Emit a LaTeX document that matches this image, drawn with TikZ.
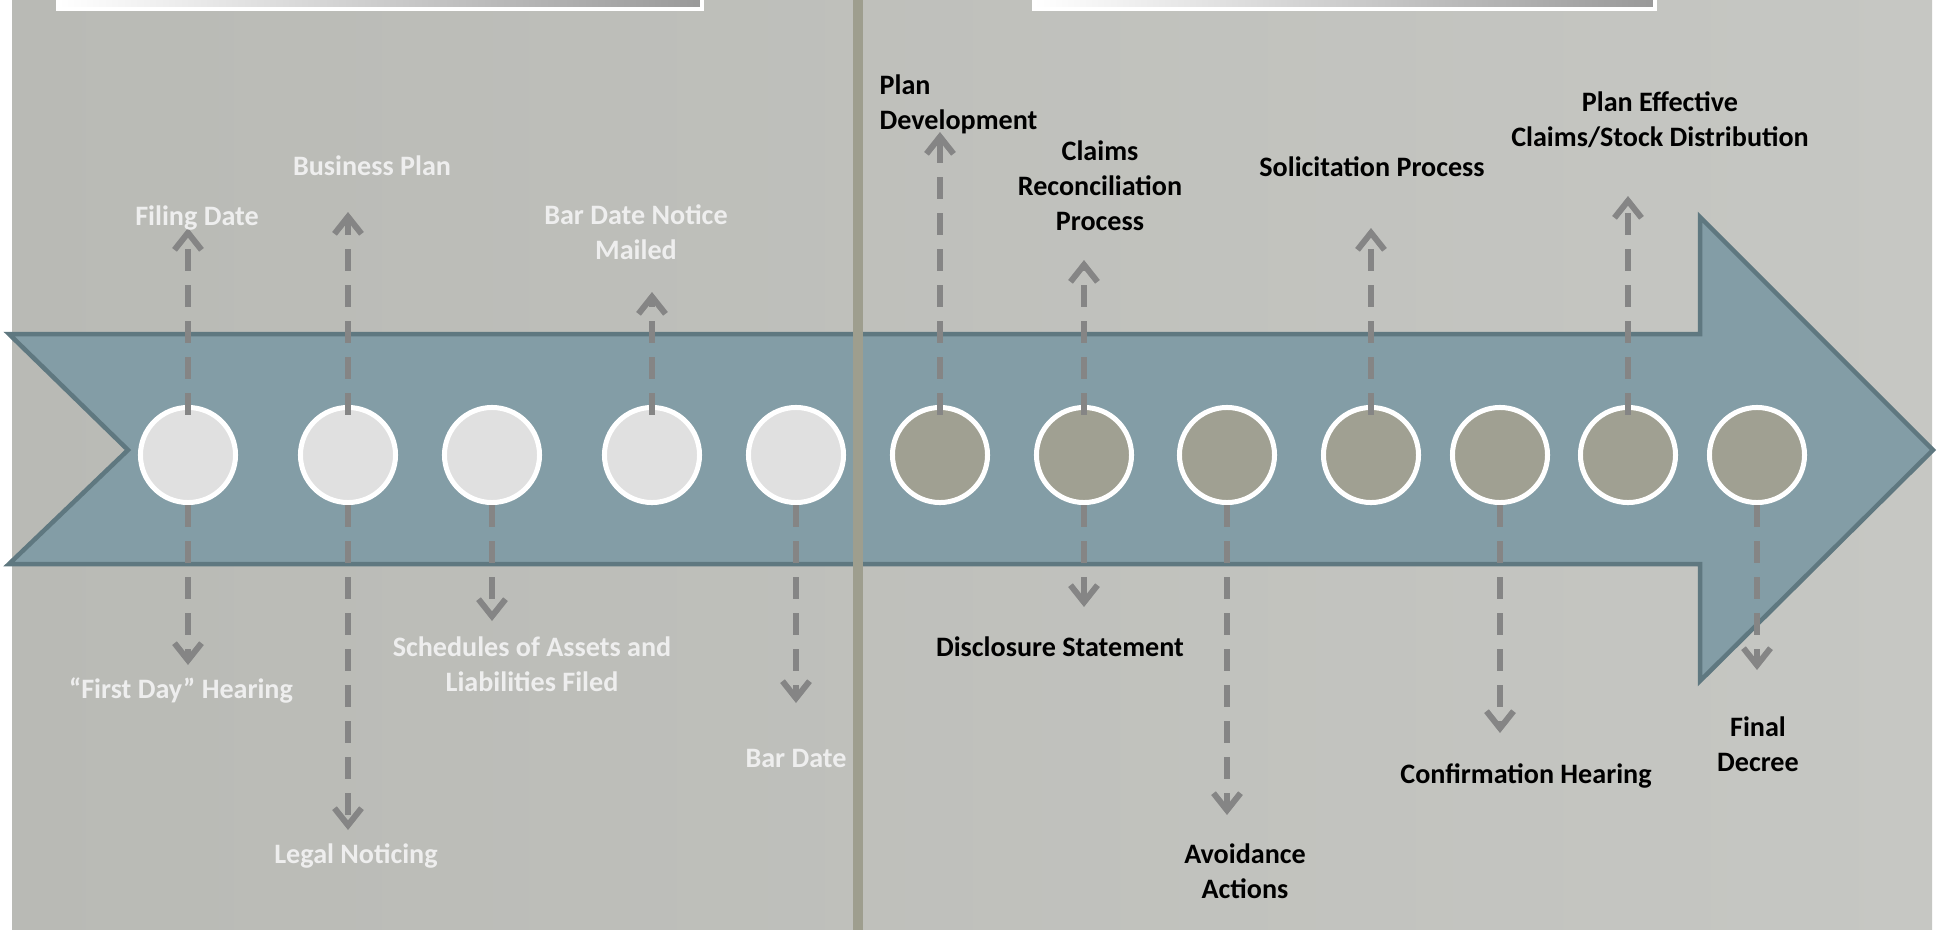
\documentclass[tikz,border=0pt]{standalone}
\usepackage{fontspec}
\setmainfont{Carlito}
\usetikzlibrary{arrows.meta}
\definecolor{bandfill}{HTML}{839DA6}
\definecolor{bandedge}{HTML}{5F7880}
\definecolor{earlyfill}{HTML}{E0E0E0}
\definecolor{latefill}{HTML}{A0A092}
\definecolor{rulecol}{HTML}{9E9E8E}
\definecolor{dashgray}{HTML}{858585}
\definecolor{paletext}{HTML}{EEEEEE}
\definecolor{bgleft}{HTML}{B9BAB5}
\definecolor{bgright}{HTML}{C6C7C3}
\tikzset{phase/.style={circle,draw=white,line width=0.05cm,minimum size=0.95cm,inner sep=0pt},
         early/.style={phase,fill=earlyfill},
         late/.style={phase,fill=latefill},
         link/.style={draw=dashgray,line width=0.06cm,dash pattern=on 0.22cm off 0.14cm,
                      -{Straight Barb[length=0.17cm,width=0.27cm]}},
         pale/.style={font=\bfseries\fontsize{8}{10}\selectfont,text=paletext,align=center,inner sep=0pt},
         dark/.style={pale,text=black},
        }

\begin{document}
\begin{tikzpicture}[x=0.01cm,y=-0.01cm]
        \useasboundingbox(0,0)rectangle(1944,930);
        \fill[white](0,0)rectangle(1944,930);
        \shade[left color=bgleft,right color=bgright](12,0)rectangle(1932,930);

        % header boxes
        \shadedraw[left color=white,right color=gray!80,draw=white,line width=0.035cm](58,-30)rectangle(702,9);
        \shadedraw[left color=white,right color=gray!80,draw=white,line width=0.035cm](1034,-30)rectangle(1655,9);

        % timeline band
        \filldraw[fill=bandfill,draw=bandedge,line width=0.045cm]
            (9,334)--(1700,334)--(1700,217)--(1933,450)--(1700,681)--(1700,564)--(9,564)--(128,450)--cycle;
        \draw[rulecol,line width=0.1cm](858,0)--(858,930);

        % milestones
        \node[early](c1)at(188,455){};
        \node[early](c2)at(348,455){};
        \node[early](c3)at(492,455){};
        \node[early](c4)at(652,455){};
        \node[early](c5)at(796,455){};
        \node[late](c6)at(940,455){};
        \node[late](c7)at(1084,455){};
        \node[late](c8)at(1227,455){};
        \node[late](c9)at(1371,455){};
        \node[late](c10)at(1500,455){};
        \node[late](c11)at(1628,455){};
        \node[late](c12)at(1757,455){};

        % arrow ends
        \coordinate(u1)at(188,228);
        \coordinate(d1)at(188,665);
        \coordinate(u2)at(348,212);
        \coordinate(d2)at(348,830);
        \coordinate(d3)at(492,621);
        \coordinate(u4)at(652,292);
        \coordinate(d5)at(796,703);
        \coordinate(u6)at(940,132);
        \coordinate(u7)at(1084,260);
        \coordinate(d7)at(1084,607);
        \coordinate(d8)at(1227,815);
        \coordinate(u9)at(1371,228);
        \coordinate(d10)at(1500,733);
        \coordinate(u11)at(1628,196);
        \coordinate(d12)at(1757,670);

        \foreach \n in {1,2,4,6,7,9,11}
            \draw[link]([yshift=-0.1cm]c\n.north)--(u\n);
        \foreach \n in {1,2,3,5,7,8,10,12}
            \draw[link](c\n.south)--(d\n);

        % events
        \node[pale](filing)at(197,218){Filing Date};
        \node[pale](firstday)at(181,690){“First Day” Hearing};
        \node[pale](bizplan)at(372,166){Business Plan};
        \node[pale](noticing)at(356,856){Legal Noticing};
        \node[pale](schedules)at(532,664){Schedules of Assets and\\Liabilities Filed};
        \node[pale](mailed)at(636,232){Bar Date Notice\\Mailed};
        \node[pale](bardate)at(796,758){Bar Date};
        \node[dark,align=left,anchor=west](plandev)at(879,104){Plan\\Development};
        \node[dark](claims)at(1100,186){Claims\\Reconciliation\\Process};
        \node[dark](disclosure)at(1060,647){Disclosure Statement};
        \node[dark](avoidance)at(1245,871){Avoidance\\Actions};
        \node[dark](solicit)at(1372,167){Solicitation Process};
        \node[dark](confirm)at(1526,776){Confirmation Hearing};
        \node[dark](effective)at(1660,120){Plan Effective\\Claims/Stock Distribution};
        \node[dark](decree)at(1758,744){Final\\Decree};
\end{tikzpicture}
\end{document}
